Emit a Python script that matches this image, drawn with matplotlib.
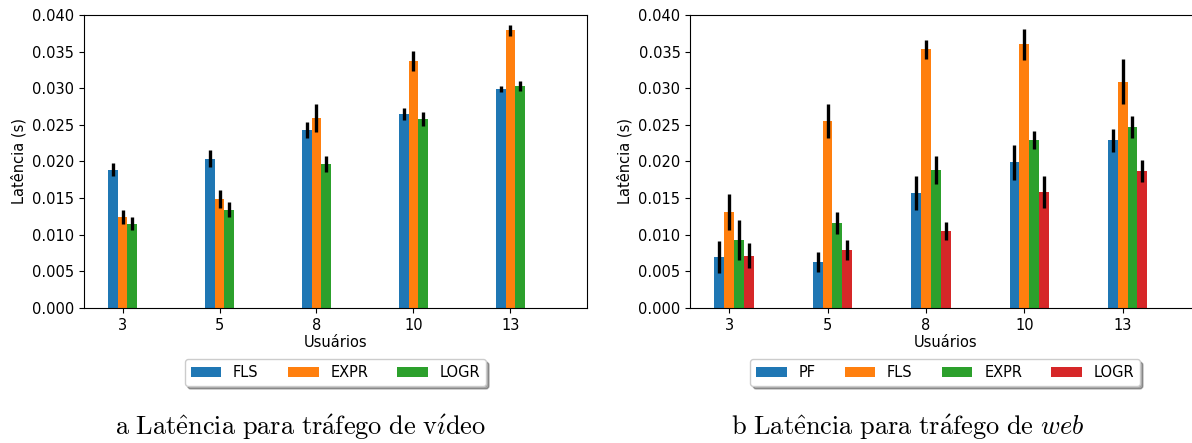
import matplotlib
matplotlib.use("Agg")
import matplotlib.pyplot as plt
import numpy as np

# Users per scenario (x categories)
usuarios = ["3", "5", "8", "10", "13"]

# Video traffic latency (s): means and error half-widths
video_series = ["FLS", "EXPR", "LOGR"]
video_fls = [0.0189, 0.0204, 0.0243, 0.0265, 0.0299]
video_expr = [0.0124, 0.0149, 0.0259, 0.0337, 0.0379]
video_logr = [0.0115, 0.0134, 0.0196, 0.0258, 0.0303]
video_fls_err = [0.0009, 0.0012, 0.0011, 0.0008, 0.0004]
video_expr_err = [0.0010, 0.0012, 0.0019, 0.0014, 0.0007]
video_logr_err = [0.0009, 0.0010, 0.0011, 0.0009, 0.0007]

# Web traffic latency (s)
web_series = ["PF", "FLS", "EXPR", "LOGR"]
web_pf = [0.0069, 0.0063, 0.0157, 0.0199, 0.0229]
web_fls = [0.0131, 0.0255, 0.0353, 0.0360, 0.0309]
web_expr = [0.0093, 0.0116, 0.0188, 0.0229, 0.0247]
web_logr = [0.0071, 0.0079, 0.0105, 0.0158, 0.0187]
web_pf_err = [0.0022, 0.0014, 0.0023, 0.0024, 0.0016]
web_fls_err = [0.0024, 0.0023, 0.0013, 0.0021, 0.0031]
web_expr_err = [0.0027, 0.0015, 0.0019, 0.0012, 0.0015]
web_logr_err = [0.0017, 0.0014, 0.0012, 0.0022, 0.0015]

colors = ["#1f77b4", "#ff7f0e", "#2ca02c", "#d62728"]
width = 0.1

plt.rcParams["mathtext.fontset"] = "cm"


def grouped_bars(ax, names, values, errors, cols):
    x = np.arange(len(usuarios))
    for i, (name, vals, errs, c) in enumerate(zip(names, values, errors, cols)):
        ax.bar(x + (i - 1) * width, vals, width, yerr=errs, color=c, label=name,
               ecolor="black", error_kw=dict(elinewidth=2.4, capsize=0))
    ax.set_xticks(x)
    ax.set_xticklabels(usuarios, fontsize=10.5)
    ax.set_xlim(-0.397, 4.79)
    ax.set_ylim(0, 0.040)
    ax.set_yticks(np.arange(0, 0.0401, 0.005))
    ax.set_yticklabels([f"{v:.3f}" for v in np.arange(0, 0.0401, 0.005)], fontsize=10.5)
    ax.set_xlabel("Usuários", fontsize=10.5, labelpad=2)
    ax.set_ylabel("Latência (s)", fontsize=10.5)
    ax.legend(loc="upper center", bbox_to_anchor=(0.5, -0.151), ncol=len(names),
              shadow=True, fontsize=10.5, handlelength=2.1, columnspacing=2.0)


fig = plt.figure(figsize=(11.92, 4.43), dpi=100)
ax1 = fig.add_axes([0.0705, 0.305, 0.422, 0.661])
ax2 = fig.add_axes([0.579, 0.305, 0.428, 0.661])

grouped_bars(ax1, video_series,
             [video_fls, video_expr, video_logr],
             [video_fls_err, video_expr_err, video_logr_err], colors[:3])
grouped_bars(ax2, web_series,
             [web_pf, web_fls, web_expr, web_logr],
             [web_pf_err, web_fls_err, web_expr_err, web_logr_err], colors)

fig.text(0.2525, 0.018,
         r"$\mathrm{a\ Lat\hat{e}ncia\ para\ tr\acute{a}fego\ de\ v\acute{\imath}deo}$",
         ha="center", va="baseline", fontsize=19)
fig.text(0.7613, 0.018,
         r"$\mathrm{b\ Lat\hat{e}ncia\ para\ tr\acute{a}fego\ de\ }\mathit{web}$",
         ha="center", va="baseline", fontsize=19)

fig.savefig("out.png", dpi=100)
